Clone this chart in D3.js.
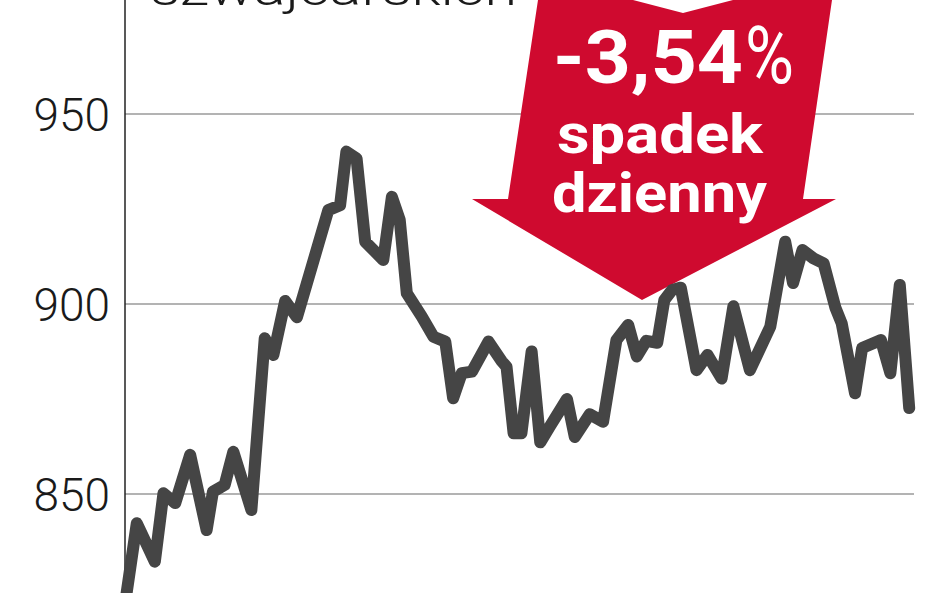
<!DOCTYPE html>
<html>
<head>
<meta charset="utf-8">
<script src="https://cdn.jsdelivr.net/npm/d3@7"></script>
<style>
  html, body { margin: 0; padding: 0; background: #fff; }
  svg { display: block; }
</style>
</head>
<body>
<svg id="chart" width="948" height="593"></svg>
<script>
// ---- data ----
const days = [0, 1.5, 3.8, 4.9, 6.4, 8.3, 10.4, 11.2, 12.7, 13.8, 16.1, 17.8, 18.9, 20.4, 21.9,
  25.9, 27.4, 28.2, 29.5, 30.6, 32.9, 34.0, 35.0, 35.9, 37.8, 39.3, 40.8, 41.8, 42.9, 44.2,
  46.3, 48.0, 48.6, 49.5, 50.5, 51.8, 52.9, 54.1, 56.3, 57.3, 59.2, 60.9, 62.6, 64.1, 65.2,
  66.4, 67.8, 68.7, 69.7, 70.8, 72.8, 74.2, 76.0, 77.5, 79.6, 82.2, 84.1, 85.1, 86.3, 87.7,
  89.0, 90.5, 91.3, 93.0, 93.9, 96.3, 97.5, 98.7, 99.9];
const values = [821, 842.3, 832.2, 850.2, 847.6, 860.3, 840.5, 850.6, 852.4, 861.1, 845.8, 891, 886.6, 900.8, 896.5,
  924.7, 926, 940.1, 938.3, 916.4, 911.6, 928.2, 922.1, 902.8, 896.7, 891.4, 890.1, 875.2, 881.8, 882.2,
  890.1, 884.9, 883.5, 866, 866, 887.5, 863.6, 867.7, 875, 865, 871, 869, 890.5, 894.5, 886.2,
  890.3, 889.8, 901, 903.7, 904.3, 882.6, 886.6, 880.4, 899.4, 882.6, 894, 916.4, 905.5, 914.2, 912,
  910.7, 899, 894.9, 876.5, 888.4, 890.5, 881.8, 905, 872.6];
const yTicks = [850, 900, 950];
const titleText = "szwajcarskich";
const changeText = "-3,54";
const changeUnit = "%";
const labelLines = ["spadek", "dzienny"];

// ---- layout ----
const svg = d3.select("#chart");
const axisX = 125, gridRight = 914;
const x = d3.scaleLinear().domain([0, 100]).range([125, 910]);
const y = d3.scaleLinear().domain([850, 950]).range([494, 114]);

// gridlines
svg.append("g").selectAll("line").data(yTicks).join("line")
  .attr("x1", axisX).attr("x2", gridRight)
  .attr("y1", d => y(d)).attr("y2", d => y(d))
  .attr("stroke", "#9a9a9a").attr("stroke-width", 1.6);

// y axis line
svg.append("line").attr("x1", axisX).attr("x2", axisX).attr("y1", 0).attr("y2", 593)
  .attr("stroke", "#222").attr("stroke-width", 1.5);

// y labels
svg.append("g").selectAll("text").data(yTicks).join("text")
  .attr("x", 110).attr("y", d => y(d) + 17)
  .attr("text-anchor", "end")
  .attr("font-family", "Roboto, sans-serif").attr("font-weight", 300)
  .attr("font-size", 46).attr("fill", "#1a1a1a")
  .text(d => d);

// title (cut at top)
svg.append("text").attr("x", 150).attr("y", 5)
  .attr("font-family", "Roboto, sans-serif").attr("font-weight", 300)
  .attr("font-size", 46).attr("fill", "#1a1a1a")
  .attr("textLength", 367).attr("lengthAdjust", "spacingAndGlyphs")
  .text(titleText);

// red arrow annotation
const arrowPts = [[540,-10],[630,-10],[633,0],[683,13],[733,0],[735,-10],[834,-10],[832,0],
  [803,199],[836,199],[642,300],[472,199],[508,199],[538,0]];
svg.append("polygon").attr("points", arrowPts.map(p => p.join(",")).join(" "))
  .attr("fill", "#cf0a2f");

// data line
const line = d3.line().x((d, i) => x(days[i])).y(d => y(d));
svg.append("path").datum(values)
  .attr("d", line)
  .attr("fill", "none").attr("stroke", "#454545")
  .attr("stroke-width", 12).attr("stroke-linejoin", "round").attr("stroke-linecap", "round");

// arrow texts
const tf = "Roboto, 'DejaVu Sans', sans-serif";
svg.append("text").attr("x", 553).attr("y", 83)
  .attr("font-family", tf).attr("font-weight", 700).attr("font-size", 74).attr("fill", "#fff")
  .attr("textLength", 190).attr("lengthAdjust", "spacingAndGlyphs")
  .text(changeText);
svg.append("text").attr("x", 745).attr("y", 83)
  .attr("font-family", tf).attr("font-weight", 400).attr("font-size", 80).attr("fill", "#fff")
  .attr("textLength", 49).attr("lengthAdjust", "spacingAndGlyphs")
  .text(changeUnit);
svg.append("text").attr("x", 557).attr("y", 153)
  .attr("font-family", tf).attr("font-weight", 700).attr("font-size", 55).attr("fill", "#fff")
  .attr("textLength", 206).attr("lengthAdjust", "spacingAndGlyphs")
  .text(labelLines[0]);
svg.append("text").attr("x", 552).attr("y", 212)
  .attr("font-family", tf).attr("font-weight", 700).attr("font-size", 55).attr("fill", "#fff")
  .attr("textLength", 215).attr("lengthAdjust", "spacingAndGlyphs")
  .text(labelLines[1]);
</script>
</body>
</html>
